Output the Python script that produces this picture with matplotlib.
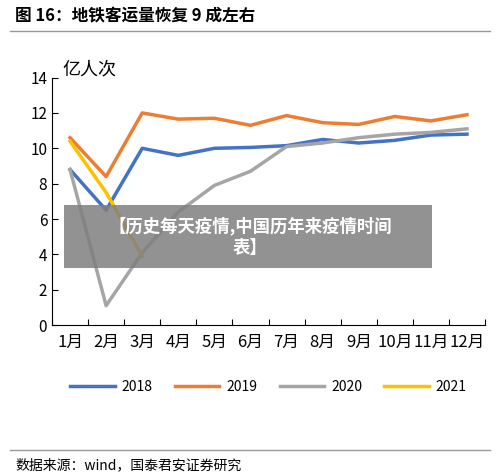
import matplotlib.pyplot as plt
from matplotlib.lines import Line2D
from matplotlib.patches import Rectangle

plt.rcParams['font.family'] = ['Noto Sans CJK SC', 'DejaVu Sans']

months = ['1月', '2月', '3月', '4月', '5月', '6月', '7月', '8月', '9月', '10月', '11月', '12月']
y2018 = [8.8, 6.5, 10.0, 9.6, 10.0, 10.05, 10.15, 10.5, 10.3, 10.45, 10.75, 10.8]
y2019 = [10.6, 8.4, 12.0, 11.65, 11.7, 11.3, 11.85, 11.45, 11.35, 11.8, 11.55, 11.9]
y2020 = [8.8, 1.1, 4.1, 6.4, 7.9, 8.7, 10.1, 10.3, 10.6, 10.8, 10.9, 11.1]
y2021 = [10.4, 7.5, 3.9]

fig = plt.figure(figsize=(5.0, 4.76), dpi=100)
ax = fig.add_axes([0.104, 0.317, 0.866, 0.52])

x = list(range(len(months)))
ax.plot(x, y2018, color='#4472C4', lw=2.5, label='2018')
ax.plot(x, y2019, color='#ED7D31', lw=2.5, label='2019')
ax.plot(x, y2020, color='#A5A5A5', lw=2.5, label='2020')
ax.plot(x[:3], y2021, color='#FFC000', lw=2.5, label='2021')

ax.set_xlim(-0.5, 11.5)
ax.set_ylim(0, 14)
ax.set_yticks(range(0, 15, 2))
ax.set_xticks([i - 0.5 for i in range(13)], minor=False)
ax.set_xticklabels([])
ax.set_xticks(x, minor=True)
ax.set_xticklabels(months, minor=True, fontsize=12)
ax.tick_params(axis='x', which='minor', length=0, pad=6)
ax.tick_params(axis='x', which='major', length=4, direction='in')
ax.tick_params(axis='y', labelsize=11, length=4, direction='in')
for s in ['top', 'right']:
    ax.spines[s].set_visible(False)
ax.text(-0.2, 14.2, '亿人次', fontsize=13)

ax.legend(loc='upper center', bbox_to_anchor=(0.5, -0.17), ncol=4, frameon=False,
          fontsize=10, handlelength=3.2, columnspacing=1.6, handletextpad=0.5)

fig.text(0.03, 0.955, '图 16：地铁客运量恢复 9 成左右', fontsize=12, fontweight='bold')
fig.add_artist(Line2D([0.02, 0.98], [0.935, 0.935], color='#999999', lw=1))
fig.add_artist(Line2D([0.02, 0.98], [0.055, 0.055], color='#999999', lw=1))
fig.text(0.03, 0.015, '数据来源：wind，国泰君安证券研究', fontsize=10)

fig.add_artist(Rectangle((0.128, 0.437), 0.736, 0.133, transform=fig.transFigure,
                         fc='#7f7f7f', ec='none', alpha=0.85))
fig.text(0.5, 0.503, '【历史每天疫情,中国历年来疫情时间\n表】', ha='center', va='center',
         color='white', fontsize=12.5, fontweight='bold', linespacing=1.3)

fig.savefig('out.png')
